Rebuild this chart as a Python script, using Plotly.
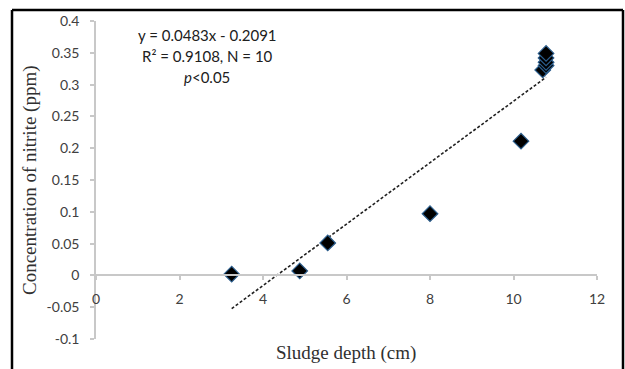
import plotly.graph_objects as go

# Data
depth = [3.25, 4.88, 5.55, 8.0, 10.18, 10.7, 10.78, 10.78, 10.78, 10.78]
nitrite = [0.002, 0.007, 0.051, 0.097, 0.211, 0.323, 0.330, 0.335, 0.342, 0.349]
slope = 0.0483
intercept = -0.2091
x_ticks = [0, 2, 4, 6, 8, 10, 12]
y_ticks = [-0.1, -0.05, 0, 0.05, 0.1, 0.15, 0.2, 0.25, 0.3, 0.35, 0.4]
y_tick_labels = ["-0.1", "-0.05", "0", "0.05", "0.1", "0.15", "0.2", "0.25", "0.3", "0.35", "0.4"]
eq_lines = ["y = 0.0483x - 0.2091", "R² = 0.9108, N = 10", "<i>p</i>&lt;0.05"]

W, H = 625, 369
L, R, T, B = 96, 28, 21, 30
pw, ph = W - L - R, H - T - B

def px_x(p):
    return (p - L) / pw

def px_y(p):
    return (H - B - p) / ph

trend_x = [min(depth), max(depth)]
trend_y = [slope * v + intercept for v in trend_x]

fig = go.Figure()
fig.add_trace(go.Scatter(
    x=trend_x, y=trend_y, mode="lines",
    line=dict(color="#202020", width=1.6, dash="3px,2px"),
    hoverinfo="skip", showlegend=False))
fig.add_trace(go.Scatter(
    x=depth, y=nitrite, mode="markers",
    marker=dict(symbol="diamond", size=12, color="#000000",
                line=dict(color="#2b5d8c", width=1.2)),
    showlegend=False))

tickfont = dict(family="Lato, Open Sans, sans-serif", size=14, color="#404040")

fig.update_layout(
    width=W, height=H,
    margin=dict(l=L, r=R, t=T, b=B),
    paper_bgcolor="white", plot_bgcolor="white",
    xaxis=dict(range=[0, 12], tickvals=x_ticks, showgrid=False, zeroline=False,
               showline=True, linecolor="#c8c8c8", linewidth=1.5,
               ticks="outside", ticklen=4, tickcolor="#c8c8c8", tickwidth=1.5,
               tickfont=tickfont, anchor="free", position=0.2,
               ticklabelstandoff=7),
    yaxis=dict(range=[-0.1, 0.4], tickvals=y_ticks, ticktext=y_tick_labels,
               showgrid=False, zeroline=False,
               showline=True, linecolor="#c8c8c8", linewidth=1.5,
               ticks="outside", ticklen=4, tickcolor="#c8c8c8", tickwidth=1.5,
               tickfont=tickfont, ticklabelstandoff=8),
    font=dict(family="Lato, sans-serif"),
)

for i, (txt, yp) in enumerate(zip(eq_lines, [35, 56, 77])):
    fig.add_annotation(x=px_x(207), y=px_y(yp), xref="paper", yref="paper",
                       text=txt, showarrow=False, xanchor="center", yanchor="middle",
                       font=dict(family="Lato, Open Sans, sans-serif", size=15, color="#202020"))

fig.add_annotation(x=px_x(346), y=px_y(353), xref="paper", yref="paper",
                   text="Sludge depth (cm)", showarrow=False,
                   xanchor="center", yanchor="middle",
                   font=dict(family="Liberation Serif, Times New Roman, serif", size=19, color="#303030"))
fig.add_annotation(x=px_x(30), y=px_y(180), xref="paper", yref="paper",
                   text="Concentration of nitrite (ppm)", showarrow=False, textangle=-90,
                   xanchor="center", yanchor="middle",
                   font=dict(family="Liberation Serif, Times New Roman, serif", size=19, color="#303030"))

# outer frame
fig.add_shape(type="line", xref="paper", yref="paper",
              x0=px_x(12), x1=px_x(12), y0=px_y(10), y1=px_y(380),
              line=dict(color="black", width=2.5))
fig.add_shape(type="line", xref="paper", yref="paper",
              x0=px_x(12), x1=px_x(623), y0=px_y(10), y1=px_y(10),
              line=dict(color="black", width=2.5))
fig.add_shape(type="line", xref="paper", yref="paper",
              x0=px_x(623), x1=px_x(623), y0=px_y(10), y1=px_y(380),
              line=dict(color="black", width=2.5))

fig.write_html("out.html")
